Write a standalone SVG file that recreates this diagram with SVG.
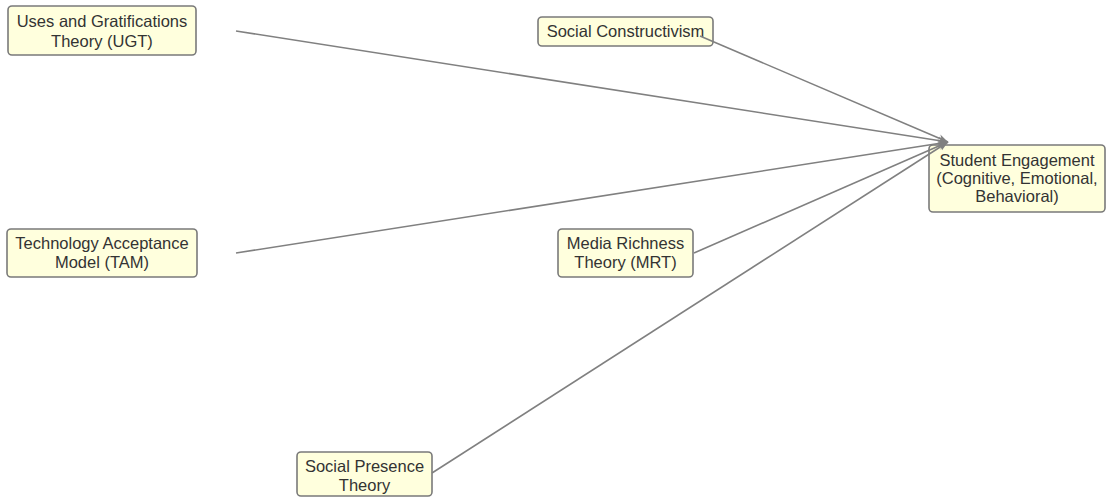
<svg xmlns="http://www.w3.org/2000/svg" width="1108" height="497" viewBox="0 0 1108 497">
<style>
.box{fill:#ffffdd;stroke:#7a7a7a;stroke-width:1.6}
.t{font-family:"Liberation Sans",Arial,sans-serif;font-size:16.5px;fill:#333;text-anchor:middle}
.e{stroke:#808080;stroke-width:1.6;fill:none;marker-end:url(#arr)}
</style>
<defs>
<marker id="arr" viewBox="0 0 10 10" refX="10" refY="5" markerWidth="10" markerHeight="10" markerUnits="userSpaceOnUse" orient="auto">
<path d="M0,1 L10,5 L0,9 L3,5 Z" fill="#808080"/>
</marker>
</defs>
<rect width="1108" height="497" fill="#ffffff"/>
<g id="ugt">
<rect class="box" x="8" y="6" width="188" height="49" rx="4"/>
<text class="t" x="102" y="27">Uses and Gratifications</text>
<text class="t" x="102" y="47">Theory (UGT)</text>
</g>
<g id="sc">
<rect class="box" x="538" y="17" width="175" height="29" rx="4"/>
<text class="t" x="625.5" y="37">Social Constructivism</text>
</g>
<g id="se">
<rect class="box" x="929" y="145" width="176" height="67" rx="4"/>
<text class="t" x="1017" y="166">Student Engagement</text>
<text class="t" x="1017" y="184">(Cognitive, Emotional,</text>
<text class="t" x="1017" y="202">Behavioral)</text>
</g>
<g id="tam">
<rect class="box" x="7" y="229" width="190" height="48" rx="4"/>
<text class="t" x="102" y="249">Technology Acceptance</text>
<text class="t" x="102" y="268">Model (TAM)</text>
</g>
<g id="mrt">
<rect class="box" x="558" y="229" width="135" height="48" rx="4"/>
<text class="t" x="625.5" y="249">Media Richness</text>
<text class="t" x="625.5" y="268">Theory (MRT)</text>
</g>
<g id="sp">
<rect class="box" x="297" y="452" width="135" height="44" rx="4"/>
<text class="t" x="364.5" y="472">Social Presence</text>
<text class="t" x="364.5" y="491">Theory</text>
</g>
<g id="connectors">
<line class="e" x1="236" y1="31" x2="948" y2="142"/>
<line class="e" x1="700" y1="36" x2="948" y2="142"/>
<line class="e" x1="236" y1="253" x2="948" y2="142"/>
<line class="e" x1="694" y1="253" x2="948" y2="142"/>
<line class="e" x1="432" y1="473" x2="948" y2="142"/>
</g>
</svg>
